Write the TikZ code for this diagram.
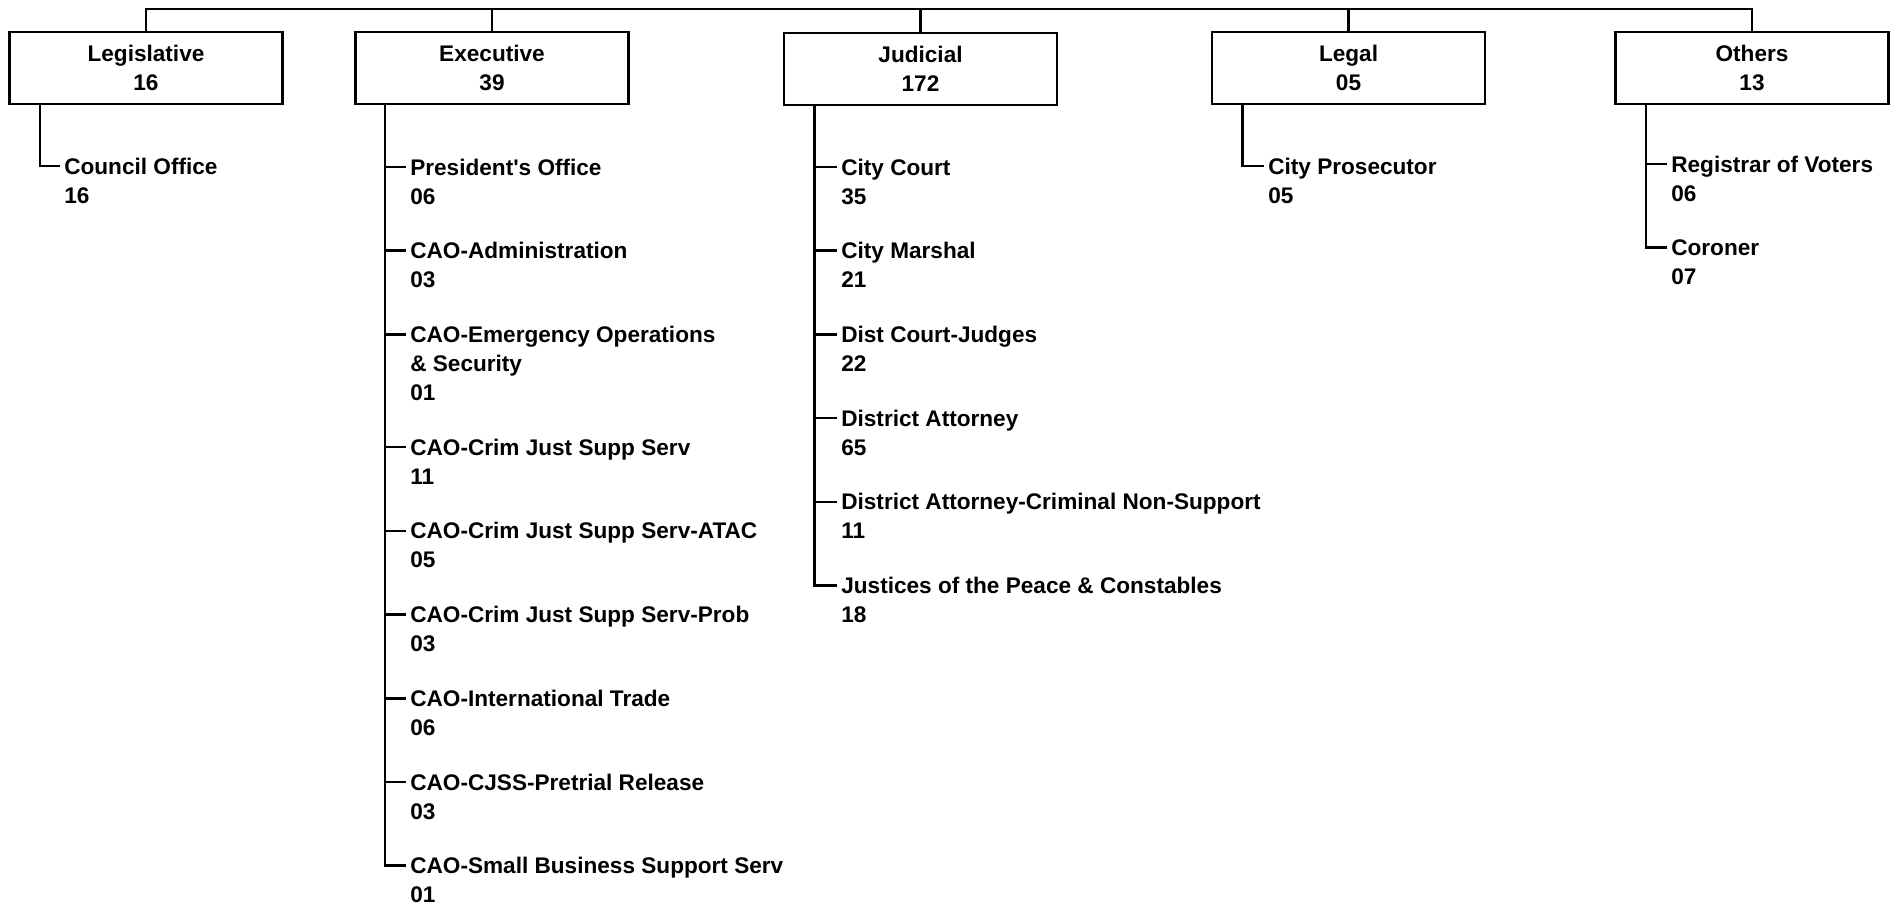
\documentclass[tikz,border=0pt]{standalone}
\usepackage{fontspec}
\setmainfont{Liberation Sans}
\begin{document}
\begin{tikzpicture}[x=0.5pt,y=-0.5pt, line width=1.3pt,
  every node/.style={font=\fontsize{11.3}{14.5}\selectfont\bfseries},
  box/.style={draw, line width=1.4pt, minimum width=136.5pt, minimum height=36pt, align=center, inner sep=0pt},
  item/.style={anchor=west, inner xsep=1.5pt, inner ysep=0pt, text height=8.1pt, text depth=0pt}]
\useasboundingbox (0,0) rectangle (1898,906);
\coordinate (top) at (0,9);
% top level boxes
\node[box] (leg) at (146,68) {Legislative\\16};
\node[box] (exe) at (492,68) {Executive\\39};
\node[box] (jud) at (920.5,69) {Judicial\\172};
\node[box] (lgl) at (1348.5,68) {Legal\\05};
\node[box] (oth) at (1752,68) {Others\\13};
\draw (leg.north) -- (leg.north |- top) -- (oth.north |- top) -- (oth.north);
\draw (exe.north) -- (exe.north |- top);
\draw (jud.north) -- (jud.north |- top);
\draw (lgl.north) -- (lgl.north |- top);
% spines
\coordinate (legS) at ([xshift=16pt]leg.south west);
\coordinate (exeS) at ([xshift=15.5pt]exe.south west);
\coordinate (judS) at ([xshift=16pt]jud.south west);
\coordinate (lglS) at ([xshift=16pt]lgl.south west);
\coordinate (othS) at ([xshift=16pt]oth.south west);
% Legislative
\node[item] (l1) at (60,166) {Council Office};
\node[item] (l1n) at (60,195) {16};
\draw (legS) |- (l1.west);
% Executive
\node[item] (e1) at (406,167) {President\textquotesingle s Office};
\node[item] (e1n) at (406,196) {06};
\node[item] (e2) at (406,250.7) {CAO-Administration};
\node[item] (e2n) at (406,279.7) {03};
\node[item] (e3) at (406,334.4) {CAO-Emergency Operations};
\node[item] (e3b) at (406,363.4) {\& Security};
\node[item] (e3n) at (406,392.4) {01};
\node[item] (e4) at (406,447.1) {CAO-Crim Just Supp Serv};
\node[item] (e4n) at (406,476.1) {11};
\node[item] (e5) at (406,530.8) {CAO-Crim Just Supp Serv-ATAC};
\node[item] (e5n) at (406,559.8) {05};
\node[item] (e6) at (406,614.5) {CAO-Crim Just Supp Serv-Prob};
\node[item] (e6n) at (406,643.5) {03};
\node[item] (e7) at (406,698.2) {CAO-International Trade};
\node[item] (e7n) at (406,727.2) {06};
\node[item] (e8) at (406,781.9) {CAO-CJSS-Pretrial Release};
\node[item] (e8n) at (406,810.9) {03};
\node[item] (e9) at (406,865.6) {CAO-Small Business Support Serv};
\node[item] (e9n) at (406,894.6) {01};
\foreach \n in {e1,e2,e3,e4,e5,e6,e7,e8,e9} \draw (exeS) |- (\n.west);
% Judicial
\node[item] (j1) at (837,167) {City Court};
\node[item] (j1n) at (837,196) {35};
\node[item] (j2) at (837,250.7) {City Marshal};
\node[item] (j2n) at (837,279.7) {21};
\node[item] (j3) at (837,334.4) {Dist Court-Judges};
\node[item] (j3n) at (837,363.4) {22};
\node[item] (j4) at (837,418.1) {District Attorney};
\node[item] (j4n) at (837,447.1) {65};
\node[item] (j5) at (837,501.8) {District Attorney-Criminal Non-Support};
\node[item] (j5n) at (837,530.8) {11};
\node[item] (j6) at (837,585.5) {Justices of the Peace \& Constables};
\node[item] (j6n) at (837,614.5) {18};
\foreach \n in {j1,j2,j3,j4,j5,j6} \draw (judS) |- (\n.west);
% Legal
\node[item] (g1) at (1264,166) {City Prosecutor};
\node[item] (g1n) at (1264,195) {05};
\draw (lglS) |- (g1.west);
% Others
\node[item] (o1) at (1667,164) {Registrar of Voters};
\node[item] (o1n) at (1667,193) {06};
\node[item] (o2) at (1667,247.5) {Coroner};
\node[item] (o2n) at (1667,276.5) {07};
\foreach \n in {o1,o2} \draw (othS) |- (\n.west);
\end{tikzpicture}
\end{document}
